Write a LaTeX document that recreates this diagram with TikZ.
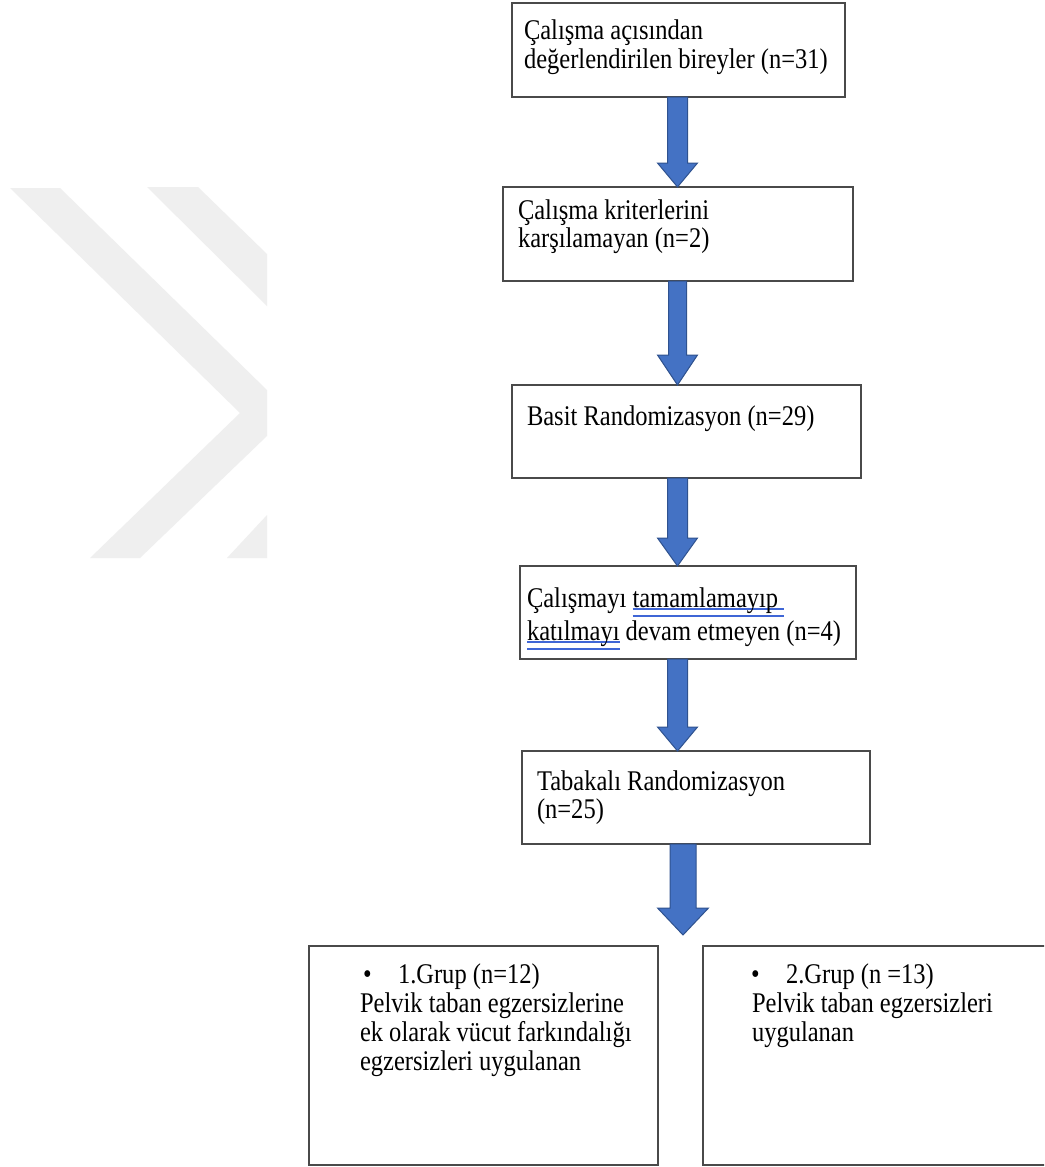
\documentclass[tikz,border=0pt]{standalone}
\usepackage{fontspec}
\setmainfont{Liberation Serif}[FakeStretch=0.86]
\usetikzlibrary{calc}
\definecolor{arrfill}{HTML}{4472C4}
\definecolor{arrline}{HTML}{2F528F}
\definecolor{ulblue}{HTML}{3F66D6}
\definecolor{wmgray}{HTML}{EFEFEF}
\definecolor{boxline}{HTML}{4A4A4A}
\newcommand\dblul[1]{\setbox0\hbox{#1}\rlap{\color{ulblue}\rule[-2.6pt]{\wd0}{1.8pt}}\rlap{\color{ulblue}\rule[-9.5pt]{\wd0}{1.8pt}}\box0\relax}
\newcommand\blockarr[5]{\draw[barrow] ($(#1)+(-#3,0)$) -- ($(#2)+(-#3,-#5)$) -- ($(#2)+(-#4,-#5)$) -- (#2) -- ($(#2)+(#4,-#5)$) -- ($(#2)+(#3,-#5)$) -- ($(#1)+(#3,0)$) -- cycle;}
\tikzset{
  box/.style={draw=boxline, line width=1.3pt, fill=white, rectangle, inner sep=0pt, outer sep=0pt, anchor=north west},
  txt/.style={anchor=base west, inner sep=0pt, outer sep=0pt, font=\fontsize{28.5}{31}\selectfont},
  barrow/.style={fill=arrfill, draw=arrline, line width=1pt, line join=miter},
  wm/.style={fill=wmgray, draw=none}
}
\begin{document}
\begin{tikzpicture}[x=1pt,y=-1pt]
\useasboundingbox (0,0) rectangle (1044,1167);
\fill[white] (0,0) rectangle (1044,1167);
% watermark
\fill[wm] (10,188) -- (60,188) -- (267,390) -- (267,436) -- (140,558) -- (90,558) -- (240,413) -- cycle;
\fill[wm] (147,187) -- (198,187) -- (267,254) -- (267,306) -- cycle;
\fill[wm] (227,558) -- (267,558) -- (267,515) -- cycle;
% boxes
\begin{scope}
\clip (0,0) rectangle (1044,1167);
\node[box, minimum width=333pt, minimum height=94pt] (b1) at (512,3) {};
\node[box, minimum width=350pt, minimum height=94pt] (b2) at (503,187) {};
\node[box, minimum width=349pt, minimum height=93pt] (b3) at (512,385) {};
\node[box, minimum width=336pt, minimum height=93pt] (b4) at (520,566) {};
\node[box, minimum width=348pt, minimum height=93pt] (b5) at (522,751) {};
\node[box, minimum width=349pt, minimum height=219pt] (b6) at (309,946) {};
\node[box, minimum width=349pt, minimum height=219pt] (b7) at (703,946) {};
\end{scope}
% texts
\node[txt] (t1a) at (524,39) {Çalışma açısından};
\node[txt] (t1b) at (524,68) {değerlendirilen bireyler (n=31)};
\node[txt] (t2a) at (518,219) {Çalışma kriterlerini};
\node[txt] (t2b) at (518,247) {karşılamayan (n=2)};
\node[txt] (t3a) at (527,425) {Basit Randomizasyon (n=29)};
\node[txt] (t4a) at (527,607) {Çalışmayı \dblul{tamamlamayıp\ }};
\node[txt] (t4b) at (527,640) {\dblul{katılmayı} devam etmeyen (n=4)};
\node[txt] (t5a) at (537,790) {Tabakalı Randomizasyon};
\node[txt] (t5b) at (537,818) {(n=25)};
\node[txt] (t6bul) at (363,983) {•};
\node[txt] (t6a) at (398,983) {1.Grup (n=12)};
\node[txt] (t6b) at (360,1012) {Pelvik taban egzersizlerine};
\node[txt] (t6c) at (360,1041) {ek olarak vücut farkındalığı};
\node[txt] (t6d) at (360,1070) {egzersizleri uygulanan};
\node[txt] (t7bul) at (751,983) {•};
\node[txt] (t7a) at (786,983) {2.Grup (n =13)};
\node[txt] (t7b) at (752,1012) {Pelvik taban egzersizleri};
\node[txt] (t7c) at (752,1041) {uygulanan};
% arrows
\coordinate (ax) at (677.5,0);
\coordinate (ax5) at (683,0);
\coordinate (s1) at (b1.south -| ax); \coordinate (e1) at (b2.north -| ax);
\coordinate (s2) at (b2.south -| ax); \coordinate (e2) at (b3.north -| ax);
\coordinate (s3) at (b3.south -| ax); \coordinate (e3) at (b4.north -| ax);
\coordinate (s4) at (b4.south -| ax); \coordinate (e4) at (b5.north -| ax);
\coordinate (s5) at (b5.south -| ax5); \coordinate (e5) at (683,935);
\blockarr{s1}{e1}{10}{20}{24}
\blockarr{s2}{e2}{9}{20}{30}
\blockarr{s3}{e3}{10}{20}{28}
\blockarr{s4}{e4}{10}{20}{24}
\blockarr{s5}{e5}{13}{25.5}{27}
\end{tikzpicture}
\end{document}
